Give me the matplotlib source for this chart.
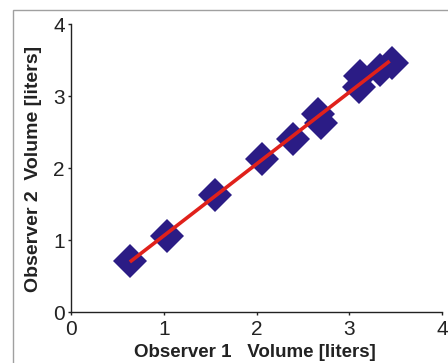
import matplotlib
matplotlib.use("Agg")
import matplotlib.pyplot as plt
from matplotlib.patches import Rectangle

obs1 = [0.64, 1.04, 1.55, 2.06, 2.39, 2.66, 2.70, 3.10, 3.12, 3.33, 3.46]
obs2 = [0.71, 1.06, 1.62, 2.12, 2.40, 2.75, 2.62, 3.12, 3.28, 3.36, 3.46]
fit_x = [0.65, 3.42]
fit_y = [0.71, 3.47]
ticks = [0, 1, 2, 3, 4]

plt.rcParams['font.family'] = ['Liberation Sans', 'DejaVu Sans']

fig = plt.figure(figsize=(4.48, 3.63), dpi=100)
fig.patches.append(Rectangle((13/448, -0.1), 1.2, 1 - 10/363 + 0.1,
                             transform=fig.transFigure, fill=False,
                             edgecolor='#a0a0a0', linewidth=1.0))
ax = fig.add_axes([71/448, 1 - 312/363, (442 - 71)/448, (312 - 24)/363])

ax.plot(obs1, obs2, linestyle='none', marker='D', markersize=17,
        color='#2b1c85', markeredgewidth=0, zorder=2)
ax.plot(fit_x, fit_y, color='#e0211b', linewidth=2.6, zorder=3)

ax.set_xlim(0, 4)
ax.set_ylim(0, 4)
ax.set_xticks(ticks)
ax.set_yticks(ticks)
for s in ['top', 'right']:
    ax.spines[s].set_visible(False)
for s in ['left', 'bottom']:
    ax.spines[s].set_linewidth(1.0)
ax.tick_params(direction='out', length=2.5, width=1, labelsize=15, colors='#222222')
ax.tick_params(axis='x', pad=3.5)
ax.tick_params(axis='y', pad=2)
ax.spines['left'].set_color('#222222')
ax.spines['bottom'].set_color('#222222')

fig.text(255/448, 1 - 357/363, 'Observer 1   Volume [liters]', fontsize=13.5,
         fontweight='bold', ha='center', va='baseline', color='#222222')
fig.text(33/448, 1 - 169/363, 'Observer 2  Volume [liters]', fontsize=14,
         fontweight='bold', ha='center', va='center', rotation=90, color='#222222')

fig.savefig('out.png', dpi=100)
